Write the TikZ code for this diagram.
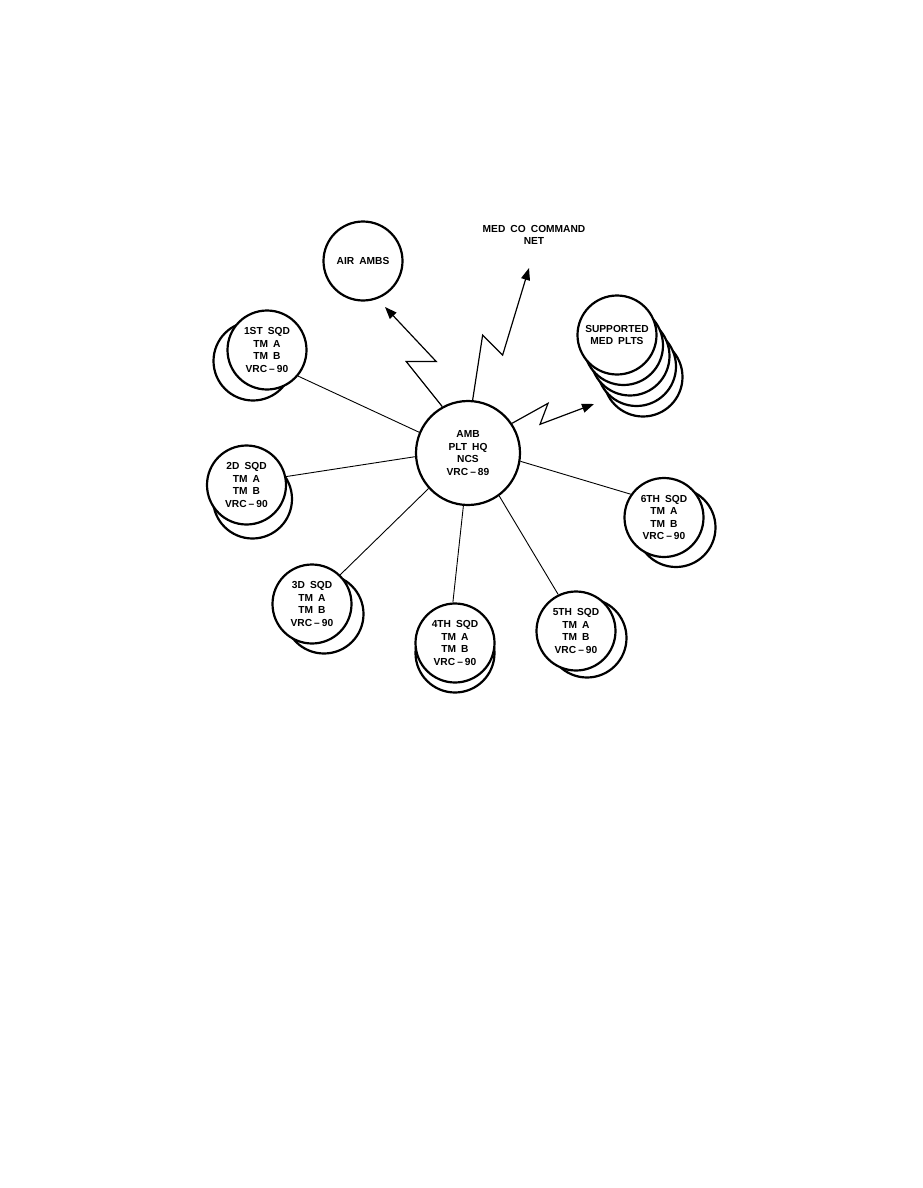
\documentclass[tikz,border=0pt]{standalone}
\usepackage{fontspec}
\setmainfont{Liberation Sans}
\usetikzlibrary{arrows.meta, positioning}
\newcommand{\wsp}{\hspace{0.5em}}
\newcommand{\vrcdash}{\hspace{0.2em}--\hspace{0.2em}}

\begin{document}
\begin{tikzpicture}[
        x=1pt, y=-1pt,
        netnode/.style={
            draw,
            circle,
            line width=2.2pt,
            fill=white,
            minimum size=79pt,
            inner sep=0pt,
            align=center,
            font=\fontsize{10.2}{12.5}\selectfont\bfseries
        },
        hubnode/.style={netnode, minimum size=104pt},
        backnode/.style={draw, circle, line width=2.2pt, fill=white, minimum size=79pt},
        sqdlink/.style={line width=0.9pt},
        radiolink/.style={-{Triangle[length=12pt, width=9pt]}, line width=1.2pt, miter limit=20}
    ]
        \useasboundingbox (0,0) rectangle (923,1188);

        % stacked circles behind the squads
        \node[backnode] (sqd1back) at (253,361) {};
        \node[backnode] (sqd2back) at (252.5,499) {};
        \node[backnode] (sqd3back) at (324,614) {};
        \node[backnode] (sqd4back) at (455,653) {};
        \node[backnode] (sqd5back) at (587,638) {};
        \node[backnode] (sqd6back) at (676,527.5) {};
        \foreach \k in {4,3,2,1}
            \node[backnode] (medplt\k) at ({617+6.5*\k},{335+10.5*\k}) {};

        \node[hubnode] (hub) at (468,453) {AMB\\PLT\wsp HQ\\NCS\\VRC\vrcdash 89};
        \node[netnode] (air) at (363,261) {AIR\wsp AMBS};
        \node[netnode] (medplts) at (617,335) {SUPPORTED\\MED\wsp PLTS};
        \node[font=\fontsize{10.2}{12.5}\selectfont\bfseries, align=center]
            (medco) at (534,235) {MED\wsp CO\wsp COMMAND\\NET};

        \node[netnode] (sqd1) at (267,350) {1ST\wsp SQD\\TM\wsp A\\TM\wsp B\\VRC\vrcdash 90};
        \node[netnode] (sqd2) at (246.5,485) {2D\wsp SQD\\TM\wsp A\\TM\wsp B\\VRC\vrcdash 90};
        \node[netnode] (sqd3) at (312,604) {3D\wsp SQD\\TM\wsp A\\TM\wsp B\\VRC\vrcdash 90};
        \node[netnode] (sqd4) at (455,643) {4TH\wsp SQD\\TM\wsp A\\TM\wsp B\\VRC\vrcdash 90};
        \node[netnode] (sqd5) at (576,631) {5TH\wsp SQD\\TM\wsp A\\TM\wsp B\\VRC\vrcdash 90};
        \node[netnode] (sqd6) at (664,517.5) {6TH\wsp SQD\\TM\wsp A\\TM\wsp B\\VRC\vrcdash 90};

        % squad nets
        \draw[sqdlink] (hub.157) -- (sqd1.-40);
        \draw[sqdlink] (hub.184) -- (sqd2.12);
        \draw[sqdlink] (hub.222) -- (sqd3.46);
        \draw[sqdlink] (hub.265) -- (sqd4.93);
        \draw[sqdlink] (hub.-54) -- (sqd5.116);
        \draw[sqdlink] (hub.-9) -- (sqd6.145);

        % radio links
        \coordinate (airtip) at (385,307);
        \coordinate (medcotip) at (529,268);
        \coordinate (medplttip) at (594,404);
        \draw[radiolink] (hub.119) -- ++(-36,-45) -- ++(30,0) -- (airtip);
        \draw[radiolink] (hub.85) -- ++(10,-65) -- ++(20,20) -- (medcotip);
        \draw[radiolink] (hub.34) -- ++(36,-20) -- ++(-8,21) -- (medplttip);
    \end{tikzpicture}
\end{document}
